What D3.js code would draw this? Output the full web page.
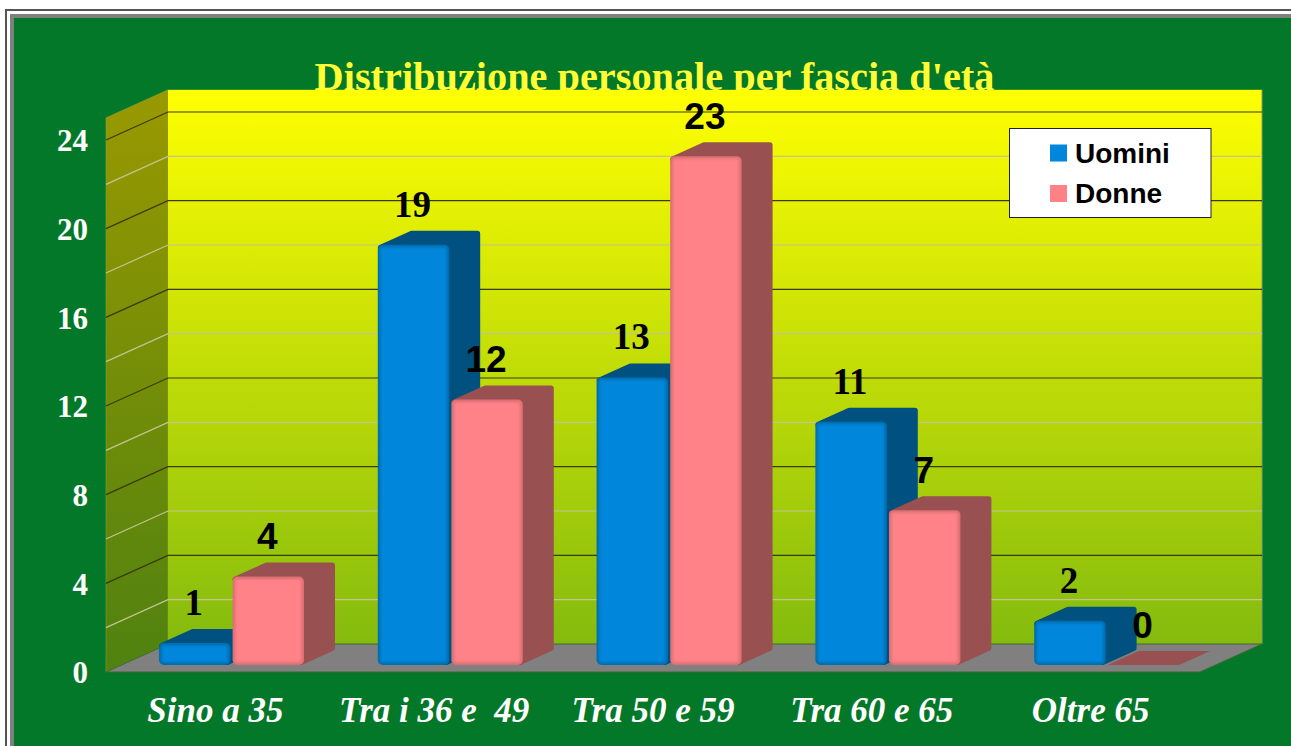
<!DOCTYPE html>
<html>
<head>
<meta charset="utf-8">
<title>Distribuzione personale per fascia d'età</title>
<script src="https://d3js.org/d3.v7.min.js"></script>
<style>
  html, body { margin: 0; padding: 0; background: #fff; overflow: hidden; }
  svg { display: block; }
  .serif { font-family: "Liberation Serif", serif; font-weight: bold; }
  .sans { font-family: "Liberation Sans", sans-serif; font-weight: bold; }
</style>
</head>
<body>
<svg id="chart" width="1291" height="746"></svg>
<script>
const categories = ['Sino a 35', 'Tra i 36 e  49', 'Tra 50 e 59', 'Tra 60 e 65', 'Oltre 65'];
const seriesNames = ['Uomini', 'Donne'];
const uomini = [1, 19, 13, 11, 2];
const donne = [4, 12, 23, 7, 0];
const yTicks = [0, 4, 8, 12, 16, 20, 24];
const minorTicks = [2, 6, 10, 14, 18, 22];

const depth = { dx: 62, dy: -28 };      // wall / floor offset
const barDepth = { dx: 31, dy: -14 };

const colors = {
    Uomini: { front: '#0087dc', edge: '#006cab', side: '#005080' },
    Donne: { front: '#ff8288', edge: '#d86e72', side: '#995050' }
};

const svg = d3.select('#chart');
const defs = svg.append('defs');

const wallGrad = defs.append('linearGradient').attr('id', 'wallGrad').attr('x1', 0).attr('y1', 0).attr('x2', 0).attr('y2', 1);
wallGrad.append('stop').attr('offset', '0%').attr('stop-color', '#ffff00');
wallGrad.append('stop').attr('offset', '100%').attr('stop-color', '#84bb0e');
const sideGrad = defs.append('linearGradient').attr('id', 'sideGrad').attr('x1', 0).attr('y1', 0).attr('x2', 0).attr('y2', 1);
sideGrad.append('stop').attr('offset', '0%').attr('stop-color', '#999900');
sideGrad.append('stop').attr('offset', '100%').attr('stop-color', '#4f8210');
defs.append('filter').attr('id', 'soft').attr('x', '-10%').attr('y', '-10%').attr('width', '120%').attr('height', '120%')
    .append('feGaussianBlur').attr('stdDeviation', 1.6);

// page frame
svg.append('rect').attr('x', 5).attr('y', 9).attr('width', 1286).attr('height', 737).attr('fill', '#555');
svg.append('rect').attr('x', 7).attr('y', 11).attr('width', 1284).attr('height', 735).attr('fill', '#fff');
svg.append('rect').attr('x', 10).attr('y', 14).attr('width', 1281).attr('height', 732).attr('fill', '#808080');
svg.append('rect').attr('x', 14).attr('y', 18).attr('width', 1277).attr('height', 728).attr('fill', '#047829');

// title goes under the wall, the wall cuts its lower part
svg.append('text').attr('class', 'serif')
    .attr('x', 654.5).attr('y', 90)
    .attr('text-anchor', 'middle')
    .attr('font-size', 40.3)
    .attr('fill', '#ffff33')
    .text("Distribuzione personale per fascia d'età");

const x0 = d3.scaleBand().domain(categories).range([106, 1200]);
const x1 = d3.scaleBand().domain(seriesNames).range([53, 198]).paddingInner(0.03);
const y = d3.scaleLinear().domain([0, 24]).range([672, 140]);
const yBar = d3.scaleLinear().domain([0, 24]).range([665, 134]);

const pts = a => a.map(p => p.join(',')).join(' ');
const yTop = y(25);

// walls
svg.append('polygon')
    .attr('points', pts([[106, y(0)], [106, yTop], [106 + depth.dx, yTop + depth.dy], [106 + depth.dx, y(0) + depth.dy]]))
    .attr('fill', 'url(#sideGrad)').attr('stroke', '#8c9a40').attr('stroke-width', 0.6);
svg.append('rect')
    .attr('x', 106 + depth.dx).attr('y', yTop + depth.dy)
    .attr('width', 1200 - 106).attr('height', y(0) - yTop)
    .attr('fill', 'url(#wallGrad)');
svg.append('line')
    .attr('x1', 1200 + depth.dx).attr('x2', 1200 + depth.dx)
    .attr('y1', yTop + depth.dy).attr('y2', y(0) + depth.dy)
    .attr('stroke', '#8a9a70').attr('stroke-width', 1);

// grid lines on side and back wall
function gridLines(ticks, color, width) {
    const g = svg.append('g').attr('fill', 'none').attr('stroke', color).attr('stroke-width', width);
    g.selectAll('polyline').data(ticks).enter().append('polyline')
        .attr('points', d => pts([[106, y(d)], [106 + depth.dx, y(d) + depth.dy], [1200 + depth.dx, y(d) + depth.dy]]));
}
gridLines(minorTicks, '#c4c490', 1.2);
gridLines(yTicks.slice(1), '#3a3a00', 1.2);

// floor
svg.append('polygon')
    .attr('points', pts([[106, y(0)], [1200, y(0)], [1200 + depth.dx, y(0) + depth.dy], [106 + depth.dx, y(0) + depth.dy]]))
    .attr('fill', '#808080').attr('stroke', '#3f6a2a').attr('stroke-width', 1);

// bars
const bars = [];
categories.forEach((c, i) => {
    bars.push({ cat: c, name: 'Uomini', value: uomini[i] });
    bars.push({ cat: c, name: 'Donne', value: donne[i] });
});

const bar = svg.selectAll('.bar').data(bars).enter().append('g').attr('class', 'bar');

// top and side faces, round joins give the soft corners
bar.append('polygon')
    .attr('points', d => {
        const l = x0(d.cat) + x1(d.name), r = l + x1.bandwidth(), t = yBar(d.value), b = yBar(0);
        const inset = d.value > 0 ? 3 : 0;
        return pts([
            [l + inset, t + inset],
            [l + barDepth.dx + inset, t + barDepth.dy + inset],
            [r + barDepth.dx - inset, t + barDepth.dy + inset],
            [r + barDepth.dx - inset, b + barDepth.dy - inset],
            [r - inset, b - inset]
        ]);
    })
    .attr('fill', d => colors[d.name].side)
    .attr('stroke', d => d.value > 0 ? colors[d.name].side : 'none')
    .attr('stroke-width', 6)
    .attr('stroke-linejoin', 'round');

const standing = bar.filter(d => d.value > 0);
standing.append('rect')
    .attr('x', d => x0(d.cat) + x1(d.name))
    .attr('y', d => yBar(d.value))
    .attr('width', x1.bandwidth())
    .attr('height', d => yBar(0) - yBar(d.value))
    .attr('rx', 5)
    .attr('fill', d => colors[d.name].edge);
standing.append('rect')
    .attr('x', d => x0(d.cat) + x1(d.name) + 2.5)
    .attr('y', d => yBar(d.value) + 2.5)
    .attr('width', x1.bandwidth() - 5)
    .attr('height', d => yBar(0) - yBar(d.value) - 5)
    .attr('fill', d => colors[d.name].front)
    .attr('filter', 'url(#soft)');

// value labels: men in serif, women in sans, as in the picture
svg.selectAll('.value').data(bars).enter().append('text')
    .attr('class', d => 'value ' + (d.name === 'Uomini' ? 'serif' : 'sans'))
    .attr('x', d => x0(d.cat) + x1(d.name) + x1.bandwidth() / 2 - 1)
    .attr('y', d => yBar(d.value) - (d.name === 'Uomini' ? 28 : 27.5))
    .attr('text-anchor', 'middle')
    .attr('font-size', 37)
    .attr('fill', '#000')
    .text(d => d.value);

// axes
const yAxis = svg.append('g').attr('transform', 'translate(88,0)')
    .call(d3.axisLeft(y).tickValues(yTicks).tickSize(0).tickPadding(0));
yAxis.select('.domain').remove();
yAxis.selectAll('text').attr('class', 'serif')
    .attr('font-size', 31).attr('fill', '#fff').attr('dy', '0.35em');

const xAxis = svg.append('g').attr('transform', 'translate(0,672)')
    .call(d3.axisBottom(x0).tickSize(0));
xAxis.select('.domain').remove();
xAxis.selectAll('text').attr('class', 'serif')
    .attr('font-size', 35).attr('font-style', 'italic').attr('fill', '#fff')
    .attr('y', 50).attr('dy', 0).style('white-space', 'pre');

// legend
const legend = svg.append('g');
legend.append('rect').attr('x', 1009.5).attr('y', 128.5).attr('width', 201.5).attr('height', 89)
    .attr('fill', '#fff').attr('stroke', '#222').attr('stroke-width', 1);
const legendY = d3.scalePoint().domain(seriesNames).range([153, 193.5]);
const item = legend.selectAll('.item').data(seriesNames).enter().append('g').attr('class', 'item');
item.append('rect').attr('x', 1050).attr('y', d => legendY(d) - 8.5).attr('width', 17).attr('height', 17)
    .attr('fill', d => colors[d].front);
item.append('text').attr('class', 'sans').attr('x', 1075).attr('y', d => legendY(d) + 9.5)
    .attr('font-size', 28).attr('fill', '#000').text(d => d);
</script>
</body>
</html>
